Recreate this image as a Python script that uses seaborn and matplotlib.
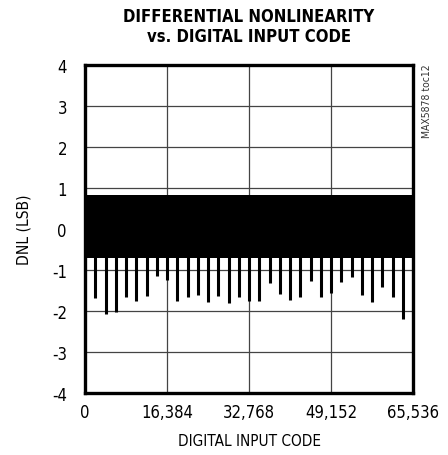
import numpy as np
import pandas as pd
import matplotlib
matplotlib.use("Agg")
import matplotlib.pyplot as plt
import seaborn as sns

# ---- data ----
code_ticks = [0, 16384, 32768, 49152, 65536]
code_tick_labels = ["0", "16,384", "32,768", "49,152", "65,536"]
dnl_ticks = [-4, -3, -2, -1, 0, 1, 2, 3, 4]

# dense DNL band (envelope of typical codes)
band_codes = [0, 65536]
band_top = [0.83, 0.83]
band_bottom = [-0.70, -0.70]

# major-carry spikes (every 2048 codes)
spike_codes = [2048 * k for k in range(1, 32)]
spike_dnl = [-1.68, -2.07, -2.03, -1.67, -1.76, -1.63, -1.15, -1.24,
             -1.75, -1.67, -1.61, -1.79, -1.63, -1.81, -1.66, -1.76,
             -1.76, -1.32, -1.59, -1.73, -1.66, -1.28, -1.66, -1.56,
             -1.30, -1.18, -1.61, -1.79, -1.42, -1.65, -2.20]

sns.set_style("white")
FONT = ["DejaVu Sans"]
plt.rcParams["font.family"] = FONT
plt.rcParams["font.stretch"] = "condensed"
plt.rcParams["text.color"] = "black"
plt.rcParams["axes.labelcolor"] = "black"
plt.rcParams["xtick.color"] = "black"
plt.rcParams["ytick.color"] = "black"

fig = plt.figure(figsize=(4.48, 4.56), dpi=100)
ax = fig.add_axes([85 / 448, 1 - 394 / 456, 328 / 448, 328 / 456])

df_band = pd.DataFrame({"code": band_codes, "top": band_top, "bottom": band_bottom})
ax.fill_between(df_band["code"], df_band["bottom"], df_band["top"],
                color="black", linewidth=0, zorder=3)

df_spk = pd.DataFrame({"code": spike_codes, "dnl": spike_dnl})
ax.vlines(df_spk["code"], 0, df_spk["dnl"], color="black", linewidth=2.2, zorder=3)

ax.set_xlim(0, 65536)
ax.set_ylim(-4, 4)
ax.set_xticks(code_ticks)
ax.set_xticklabels(code_tick_labels)
ax.set_yticks(dnl_ticks)
ax.set_yticklabels([str(v) for v in dnl_ticks])
ax.grid(True, color="#444444", linewidth=0.9, zorder=1)
ax.set_axisbelow(True)
ax.tick_params(axis="x", length=0, pad=7, labelsize=12)
ax.tick_params(axis="y", length=0, pad=13, labelsize=12)
for s in ax.spines.values():
    s.set_visible(True)
    s.set_color("black")
    s.set_linewidth(2.4)
    s.set_zorder(5)

ax.set_xlabel("DIGITAL INPUT CODE", fontsize=11, labelpad=9)
ax.set_ylabel("DNL (LSB)", fontsize=11.2, labelpad=15)

fig.text(249 / 448, 1 - 27 / 456, "DIFFERENTIAL NONLINEARITY\nvs. DIGITAL INPUT CODE",
         ha="center", va="center", fontsize=12, fontweight="bold",
         linespacing=1.15, family=FONT, stretch="condensed")
fig.text(427 / 448, 1 - 101 / 456, "MAX5878 toc12", rotation=90,
         ha="center", va="center", fontsize=7.5, color="#333333", family=FONT,
         stretch="condensed")

fig.savefig("out.png", dpi=100)
